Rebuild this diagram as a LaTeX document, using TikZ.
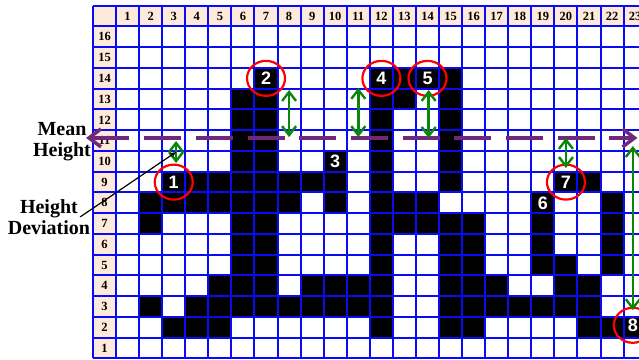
\documentclass[tikz,border=0pt]{standalone}
\usepackage{fontspec}
\setmainfont{Liberation Serif}
\newfontfamily\digitfont{Liberation Sans}
\usetikzlibrary{arrows.meta,shapes.geometric}
\definecolor{hdrfill}{RGB}{253,234,218}
\definecolor{gridblue}{RGB}{10,10,250}
\definecolor{meanpurple}{RGB}{112,40,122}
\definecolor{devgreen}{RGB}{10,135,10}
\tikzset{
    gridline/.style={draw=gridblue, line width=2pt},
    blackcell/.style={fill=black},
    hdrlbl/.style={font=\bfseries\fontsize{12.5}{12.5}\selectfont, inner sep=0pt},
    numlbl/.style={text=white, font=\digitfont\bfseries\fontsize{18}{18}\selectfont, inner sep=0pt},
    ring/.style={draw=red, ellipse, line width=2.2pt, minimum width=38pt, minimum height=35pt},
    sidetext/.style={align=center, font=\bfseries\fontsize{20}{21}\selectfont, inner sep=0pt},
    meanline/.style={draw=meanpurple, line width=3.5pt, dash pattern=on 37pt off 14.7pt, dash phase=50pt,
        {Straight Barb[length=12pt,width=18pt]}-{Straight Barb[length=12pt,width=18pt]}},
    devarrow/.style={draw=devgreen, line width=2.4pt,
        {Straight Barb[length=9pt,width=14pt]}-{Straight Barb[length=9pt,width=14pt]}},
    pointer/.style={draw=black, line width=1.2pt, -{Stealth[length=6pt,width=5pt]}}
}

\begin{document}
\begin{tikzpicture}[x=23.07pt, y=20.75pt]
    \useasboundingbox (-4.031,-0.0723) rectangle (23.667,17.277);
    \clip (-4.031,-0.0723) rectangle (23.667,17.277);
    \fill[white] (-4.031,-0.0723) rectangle (23.667,17.277);

    % header row and column
    \fill[hdrfill] (0,0) rectangle (1,17);
    \fill[hdrfill] (0,16) rectangle (24,17);

    % occupied cells, row by row
    \foreach \r/\cols in {14/{7,12,13,14,15},
                          13/{6,7,12,13,15},
                          12/{6,7,12,15},
                          11/{6,7,12,15},
                          10/{6,7,10,12,15},
                          9/{3,4,5,6,7,8,9,10,12,15,20,21},
                          8/{2,3,4,5,6,7,8,10,12,13,14,19,22},
                          7/{2,6,7,12,13,14,15,16,19,22},
                          6/{6,7,12,15,16,19,22},
                          5/{6,7,12,15,16,19,20,22},
                          4/{5,6,7,9,10,11,12,15,16,17,20,21},
                          3/{2,4,5,6,7,8,9,10,11,12,15,16,17,18,19,20,21},
                          2/{3,4,5,12,15,16,21,22,23}}
        \foreach \c in \cols
            \fill[blackcell] (\c,\r-1) rectangle ++(1,1);

    % grid
    \foreach \i in {0,...,24}
        \draw[gridline] (\i,0) -- (\i,17);
    \foreach \j in {0,...,17}
        \draw[gridline] (0,\j) -- (24,\j);

    \foreach \c in {1,...,23}
        \node[hdrlbl] at (\c+0.5,16.5) {\c};
    \foreach \r in {1,...,16}
        \node[hdrlbl] at (0.5,\r-0.5) {\r};

    % numbered peaks and valleys
    \node[numlbl, ring] (p1) at (3.5,8.5) {1};
    \node[numlbl, ring] (p2) at (7.5,13.5) {2};
    \node[numlbl] (p3) at (10.5,9.5) {3};
    \node[numlbl, ring] (p4) at (12.5,13.5) {4};
    \node[numlbl, ring] (p5) at (14.5,13.5) {5};
    \node[numlbl] (p6) at (19.5,7.5) {6};
    \node[numlbl, ring] (p7) at (20.5,8.5) {7};
    \node[numlbl, ring] (p8) at (23.4,1.6) {8};

    % mean height
    \coordinate (meanL) at (-0.30,10.63);
    \coordinate (meanR) at (23.6,10.63);
    \draw[meanline] (meanL) -- (meanR);

    % height deviations
    \foreach \nm/\xx/\ya/\yb in {d1/3.6/10.48/9.42, d2/8.5/12.94/10.67, d3/11.5/13.04/10.67,
                                 d4/14.55/12.94/10.63, d5/20.5/10.63/9.18, d6/23.4/10.24/2.33} {
        \coordinate (\nm top) at (\xx,\ya);
        \coordinate (\nm bot) at (\xx,\yb);
        \draw[devarrow] (\nm top) -- (\nm bot);
    }

    \node[sidetext] (meantext) at (-1.344,10.43) {Mean\\Height};
    \node[sidetext] (devtext) at (-1.91,6.82) {Height\\Deviation};
    \coordinate (devtail) at (-0.56,6.82);
    \coordinate (devtip) at (3.6,9.95);
    \draw[pointer] (devtail) -- (devtip);
\end{tikzpicture}
\end{document}
